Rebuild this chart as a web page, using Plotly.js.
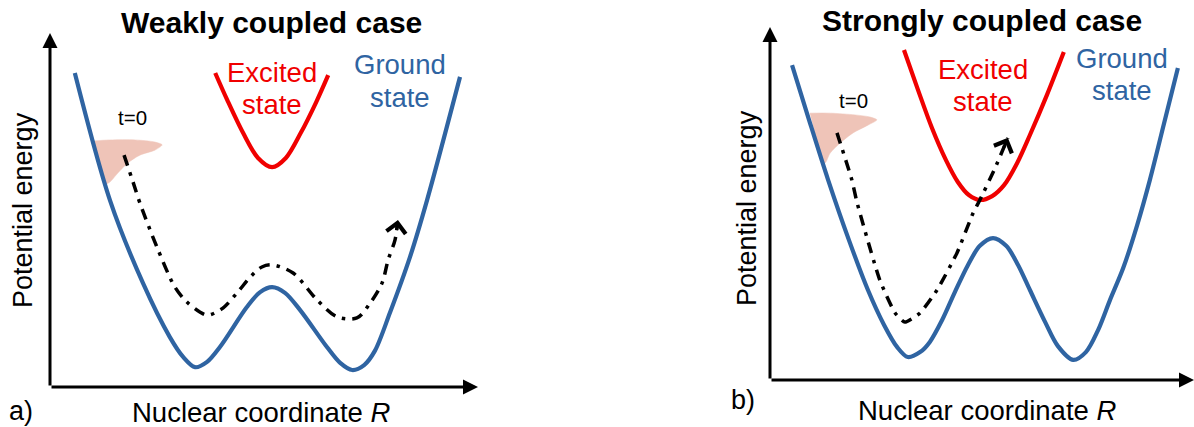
<!DOCTYPE html>
<html>
<head>
<meta charset="utf-8">
<script src="https://cdn.plot.ly/plotly-3.0.1.min.js"></script>
<style>
html,body{margin:0;padding:0;background:#ffffff;}
#chart{width:1194px;height:427px;}
</style>
</head>
<body>
<div id="chart"></div>
<script>
// ---------- Data (schematic values; R and E in arbitrary units 0..10) ----------
// Panel a) weakly coupled
const groundA_R = [0.58, 1.40, 2.17, 2.80, 3.11, 3.39, 3.67, 3.97, 4.60, 4.91, 5.19, 5.49, 5.84, 6.47, 6.78, 7.06, 7.34, 7.59, 7.94, 8.41, 8.81, 9.58];
const groundA_E = [8.87, 5.28, 2.94, 1.41, 0.85, 0.56, 0.71, 1.13, 2.26, 2.68, 2.82, 2.66, 2.18, 1.13, 0.68, 0.48, 0.62, 1.02, 2.09, 3.67, 5.28, 8.76];
const excitedA_R = [3.86, 4.14, 4.51, 4.86, 5.19, 5.51, 5.86, 6.22, 6.50];
const excitedA_E = [8.87, 8.11, 7.18, 6.47, 6.21, 6.47, 7.18, 8.05, 8.81];
const pathA_R = [1.73, 1.94, 2.10, 2.50, 2.92, 3.20, 3.50, 3.69, 4.04, 4.37, 4.72, 4.95, 5.19, 5.68, 6.24, 6.71, 7.17, 7.48, 7.76, 7.90, 8.06, 8.13];
const pathA_E = [6.55, 5.79, 5.20, 3.95, 2.82, 2.40, 2.12, 2.03, 2.23, 2.66, 3.16, 3.39, 3.45, 3.22, 2.46, 1.98, 1.95, 2.37, 2.94, 3.59, 4.15, 4.72];
const packetA_R = [0.99, 1.40, 1.99, 2.45, 2.62, 2.45, 2.10, 1.82, 1.59, 1.40, 1.29];
const packetA_E = [6.95, 6.98, 6.98, 6.92, 6.84, 6.69, 6.55, 6.33, 6.05, 5.79, 5.71];

// Panel b) strongly coupled
const groundB_R = [0.52, 0.92, 1.37, 1.86, 2.31, 2.69, 3.00, 3.25, 3.54, 3.77, 4.06, 4.36, 4.67, 4.95, 5.26, 5.57, 5.85, 6.13, 6.49, 6.79, 7.15, 7.45, 7.74, 8.02, 8.33, 8.66, 8.96, 9.29, 9.62];
const groundB_E = [8.92, 7.37, 5.67, 3.97, 2.55, 1.56, 0.93, 0.65, 0.79, 1.08, 1.70, 2.49, 3.26, 3.80, 4.02, 3.80, 3.26, 2.55, 1.64, 0.96, 0.57, 0.79, 1.42, 2.27, 3.17, 4.39, 5.67, 7.25, 8.84];
const excitedB_R = [3.16, 3.49, 3.82, 4.15, 4.43, 4.69, 4.95, 5.24, 5.52, 5.83, 6.13, 6.53, 6.93];
const excitedB_E = [9.35, 8.22, 7.14, 6.23, 5.61, 5.24, 5.10, 5.21, 5.52, 6.15, 6.94, 8.07, 9.29];
const pathB_R = [1.58, 1.93, 2.05, 2.59, 2.95, 3.18, 3.54, 3.94, 4.41, 4.79, 4.95, 5.31, 5.61];
const pathB_E = [7.00, 5.67, 5.04, 2.83, 1.90, 1.64, 1.90, 2.55, 3.60, 4.73, 5.10, 6.01, 6.86];
const packetB_R = [0.94, 1.42, 2.01, 2.36, 2.52, 2.31, 1.96, 1.65, 1.42, 1.30, 1.23];
const packetB_E = [7.56, 7.56, 7.51, 7.45, 7.37, 7.22, 7.00, 6.71, 6.43, 6.15, 6.18];

// ---------- Text ----------
const panelTitles = ['Weakly coupled case', 'Strongly coupled case'];
const panelLetters = ['a)', 'b)'];
const xTitle = 'Nuclear coordinate <i>R</i>';
const yTitle = 'Potential energy';
const excitedLines = ['Excited', 'state'];
const groundLines = ['Ground', 'state'];
const startLabel = 't=0';

// ---------- Style ----------
const W = 1194, H = 427;
const BLUE = '#2f64a2';
const RED = '#f00000';
const PINK = 'rgba(239,196,184,1)';
const FONT = 'Arial, "Liberation Sans", sans-serif';

const domA = {x: [50 / W, 478 / W], y: [40 / H, 394 / H]};
const domB = {x: [770 / W, 1], y: [47 / H, 400 / H]};
const RANGE = [0, 10];

function packet(R, E, xa, ya) {
  return {x: R, y: E, xaxis: xa, yaxis: ya, mode: 'lines', fill: 'toself', fillcolor: PINK,
          line: {color: PINK, width: 0.5, shape: 'spline', smoothing: 0.8}, hoverinfo: 'skip', showlegend: false};
}
function curve(R, E, color, xa, ya) {
  return {x: R, y: E, xaxis: xa, yaxis: ya, mode: 'lines',
          line: {color: color, width: 4.2, shape: 'spline', smoothing: 0.9}, hoverinfo: 'skip', showlegend: false};
}
function path(R, E, xa, ya, sm) {
  return {x: R, y: E, xaxis: xa, yaxis: ya, mode: 'lines',
          line: {color: '#000000', width: 3.5, dash: '11px,7px,3.5px,7px', shape: 'spline', smoothing: sm},
          hoverinfo: 'skip', showlegend: false};
}

const data = [
  packet(packetA_R, packetA_E, 'x', 'y'),
  curve(groundA_R, groundA_E, BLUE, 'x', 'y'),
  curve(excitedA_R, excitedA_E, RED, 'x', 'y'),
  path(pathA_R, pathA_E, 'x', 'y', 0.9),
  packet(packetB_R, packetB_E, 'x2', 'y2'),
  curve(groundB_R, groundB_E, BLUE, 'x2', 'y2'),
  curve(excitedB_R, excitedB_E, RED, 'x2', 'y2'),
  path(pathB_R, pathB_E, 'x2', 'y2', 0.5)
];

function P(px, py) { return {x: px / W, y: 1 - py / H}; }
function txt(px, py, text, size, color, extra) {
  const p = P(px, py);
  return Object.assign({xref: 'paper', yref: 'paper', x: p.x, y: p.y, text: text, showarrow: false,
    xanchor: 'center', yanchor: 'middle', font: {family: FONT, size: size, color: color}}, extra || {});
}
function axisArrow(xs, ys, horizontal) {
  return {xref: xs + ' domain', yref: ys + ' domain', axref: xs + ' domain', ayref: ys + ' domain',
    x: horizontal ? 1 : 0, y: horizontal ? 0 : 1, ax: 0, ay: 0, text: '', font: {size: 1}, showarrow: true,
    arrowhead: 2, arrowsize: 1.0, arrowwidth: 3, arrowcolor: '#000000', standoff: 0};
}
// chevron head at the end of a path, oriented along its last segment (in pixels)
function pathHead(R, E, xs, ys, dom) {
  const n = R.length;
  const sx = (dom.x[1] - dom.x[0]) * W / (RANGE[1] - RANGE[0]);
  const sy = (dom.y[1] - dom.y[0]) * H / (RANGE[1] - RANGE[0]);
  const dx = (R[n - 1] - R[n - 2]) * sx, dy = -(E[n - 1] - E[n - 2]) * sy;
  const L = Math.sqrt(dx * dx + dy * dy), back = 12;
  return {xref: xs, yref: ys, axref: 'pixel', ayref: 'pixel', x: R[n - 1], y: E[n - 1],
    ax: -dx / L * back, ay: -dy / L * back, text: '', font: {size: 1}, showarrow: true,
    arrowhead: 4, arrowsize: 1.25, arrowwidth: 3, arrowcolor: '#000000', standoff: 0};
}

const annotations = [
  axisArrow('x', 'y', true), axisArrow('x', 'y', false),
  axisArrow('x2', 'y2', true), axisArrow('x2', 'y2', false),
  pathHead(pathA_R, pathA_E, 'x', 'y', domA),
  pathHead(pathB_R, pathB_E, 'x2', 'y2', domB),
  // panel a
  txt(271, 22, '<b>' + panelTitles[0] + '</b>', 30, '#000000'),
  txt(272, 73, excitedLines[0], 27.5, RED),
  txt(272, 104, excitedLines[1], 27.5, RED),
  txt(400, 65, groundLines[0], 27.5, BLUE),
  txt(400, 97, groundLines[1], 27.5, BLUE),
  txt(132, 118, startLabel, 20.5, '#000000'),
  txt(23, 210, yTitle, 27, '#000000', {textangle: -90}),
  txt(261, 412, xTitle, 27.5, '#000000'),
  txt(21, 411, panelLetters[0], 27, '#000000'),
  // panel b
  txt(982, 20, '<b>' + panelTitles[1] + '</b>', 30, '#000000'),
  txt(983, 70, excitedLines[0], 27.5, RED),
  txt(983, 101, excitedLines[1], 27.5, RED),
  txt(1122, 58, groundLines[0], 27.5, BLUE),
  txt(1122, 90, groundLines[1], 27.5, BLUE),
  txt(853, 100, startLabel, 20.5, '#000000'),
  txt(747, 208, yTitle, 27, '#000000', {textangle: -90}),
  txt(987, 410, xTitle, 27.5, '#000000'),
  txt(743, 400, panelLetters[1], 27, '#000000')
];

const hidden = {visible: false, range: RANGE, fixedrange: true};
const layout = {
  width: W, height: H,
  margin: {l: 0, r: 0, t: 0, b: 0, pad: 0},
  paper_bgcolor: '#ffffff', plot_bgcolor: 'rgba(0,0,0,0)',
  showlegend: false,
  xaxis: Object.assign({}, hidden, {domain: domA.x, anchor: 'y'}),
  yaxis: Object.assign({}, hidden, {domain: domA.y, anchor: 'x'}),
  xaxis2: Object.assign({}, hidden, {domain: domB.x, anchor: 'y2'}),
  yaxis2: Object.assign({}, hidden, {domain: domB.y, anchor: 'x2'}),
  annotations: annotations
};

Plotly.newPlot('chart', data, layout, {displayModeBar: false, staticPlot: true});
</script>
</body>
</html>
